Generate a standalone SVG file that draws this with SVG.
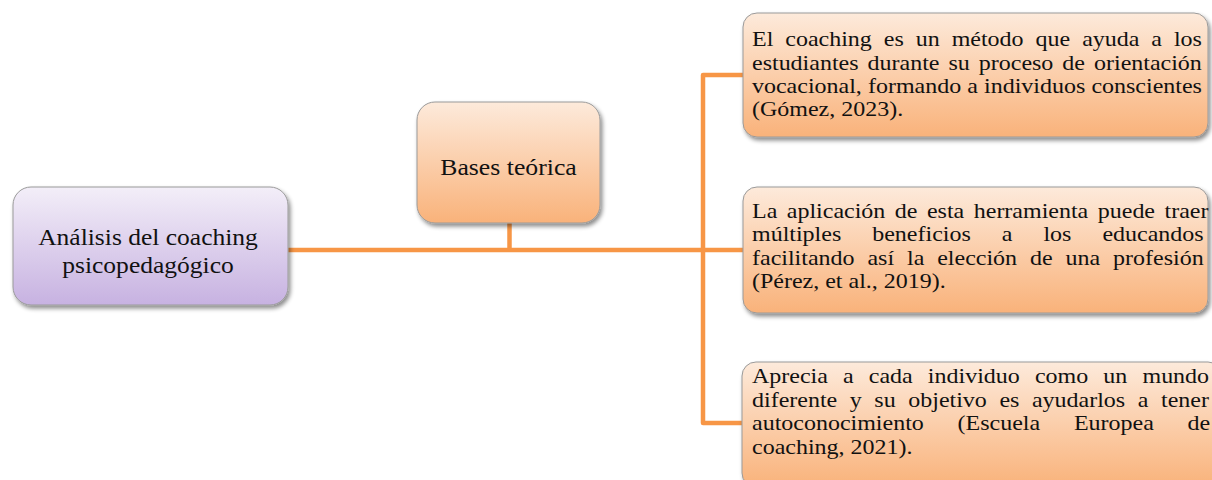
<svg xmlns="http://www.w3.org/2000/svg" width="1212" height="480" viewBox="0 0 1212 480">
  <defs>
    <linearGradient id="gLav" x1="0" y1="0" x2="0" y2="1">
      <stop offset="0" stop-color="#f3eef8"/>
      <stop offset="1" stop-color="#c7b2e1"/>
    </linearGradient>
    <linearGradient id="gOr" x1="0" y1="0" x2="0" y2="1">
      <stop offset="0" stop-color="#fdeadb"/>
      <stop offset="1" stop-color="#f9b27a"/>
    </linearGradient>
    <filter id="sh" x="-10%" y="-10%" width="125%" height="130%">
      <feDropShadow dx="2" dy="3" stdDeviation="2" flood-color="#000" flood-opacity="0.45"/>
    </filter>
  </defs>
  <style>
    .box { stroke: #9a9a9a; stroke-width: 1; filter: url(#sh); }
    .lav { fill: url(#gLav); }
    .or { fill: url(#gOr); }
    .t { font-family: "Liberation Serif", "Times New Roman", serif; fill: #111; }
    .tb { font-size: 21.5px; }
    .tn { font-size: 23px; text-anchor: middle; }
    .conn { fill: none; stroke: #f79646; stroke-width: 4.5; stroke-linejoin: round; }
  </style>

  <g id="connectors">
    <path class="conn" d="M288,250 H703"/>
    <path class="conn" d="M509.5,223 V250"/>
    <path class="conn" d="M743,75 H703 V423 H743"/>
    <path class="conn" d="M703,250 H743"/>
  </g>

  <g id="node-analisis">
    <rect class="box lav" x="13" y="187" width="275" height="118" rx="18"/>
    <g transform="translate(148,0) scale(1.11,1)">
      <text class="t tn" x="0" y="245">Análisis del coaching</text>
      <text class="t tn" x="0" y="273">psicopedagógico</text>
    </g>
  </g>

  <g id="node-bases">
    <rect class="box or" x="417" y="102" width="183" height="121" rx="18"/>
    <g transform="translate(508.5,0) scale(1.12,1)">
      <text class="t tn" x="0" y="175">Bases teórica</text>
    </g>
  </g>

  <g id="node-coaching-metodo">
    <rect class="box or" x="743" y="13" width="465" height="124" rx="14"/>
    <g transform="translate(752,0) scale(1.116,1)">
      <text class="t tb" x="0" y="46.5" word-spacing="5.35">El coaching es un método que ayuda a los</text>
      <text class="t tb" x="0" y="69.8" word-spacing="2.7">estudiantes durante su proceso de orientación</text>
      <text class="t tb" x="0" y="93.1" word-spacing="0.1">vocacional, formando a individuos conscientes</text>
      <text class="t tb" x="0" y="116.4">(Gómez, 2023).</text>
    </g>
  </g>

  <g id="node-aplicacion">
    <rect class="box or" x="743" y="187" width="465" height="126" rx="14"/>
    <g transform="translate(752,0) scale(1.116,1)">
      <text class="t tb" x="0" y="218" word-spacing="3.15">La aplicación de esta herramienta puede traer</text>
      <text class="t tb" x="0" y="241.3" word-spacing="22.4">múltiples beneficios a los educandos</text>
      <text class="t tb" x="0" y="264.6" word-spacing="6.2">facilitando así la elección de una profesión</text>
      <text class="t tb" x="0" y="287.9">(Pérez, et al., 2019).</text>
    </g>
  </g>

  <g id="node-aprecia">
    <rect class="box or" x="742" y="362" width="480" height="125" rx="14"/>
    <g transform="translate(752,0) scale(1.116,1)">
      <text class="t tb" x="0" y="383.5" word-spacing="8.2">Aprecia a cada individuo como un mundo</text>
      <text class="t tb" x="0" y="406.8" word-spacing="5.9">diferente y su objetivo es ayudarlos a tener</text>
      <text class="t tb" x="0" y="430.5" word-spacing="24.9">autoconocimiento (Escuela Europea de</text>
      <text class="t tb" x="0" y="454">coaching, 2021).</text>
    </g>
  </g>
</svg>
